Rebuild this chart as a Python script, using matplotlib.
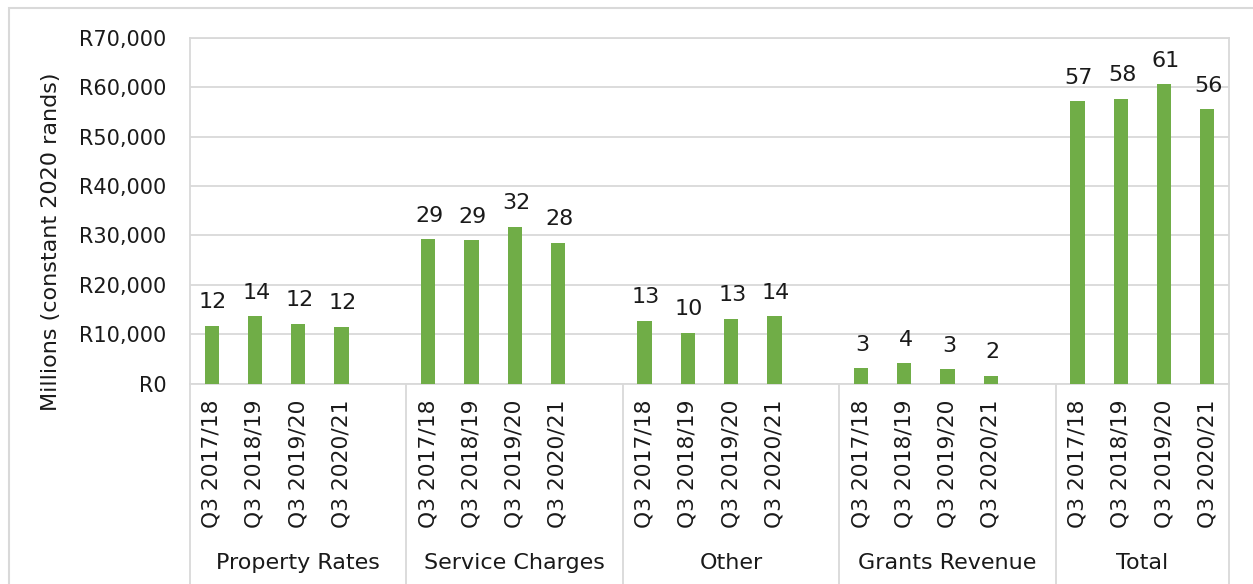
import matplotlib.pyplot as plt
from matplotlib.patches import Rectangle
from matplotlib.ticker import FuncFormatter

# revenue in R millions (constant 2020 rands)
groups = ["Property Rates", "Service Charges", "Other", "Grants Revenue", "Total"]
quarters = ["Q3 2017/18", "Q3 2018/19", "Q3 2019/20", "Q3 2020/21"]
property_rates = [11700, 13600, 12100, 11500]
service_charges = [29300, 29100, 31800, 28500]
other = [12700, 10300, 13100, 13700]
grants_revenue = [3100, 4100, 2900, 1600]
total = [57200, 57700, 60600, 55600]

series = [property_rates, service_charges, other, grants_revenue, total]

GREEN = "#70AD47"
GRID = "#D9D9D9"
TXT = "#1a1a1a"

W, H = 1253, 584
fig = plt.figure(figsize=(W / 100, H / 100), dpi=100)

# chart outer border (runs off the right / bottom edge)
fig.patches.append(Rectangle((9 / W, -0.1), 1.2, 1 - 8 / H + 0.1, transform=fig.transFigure,
                             fill=False, edgecolor=GRID, lw=1.5))

left, right, top, bottom = 190, 1229, 38, 383.5
ax = fig.add_axes([left / W, 1 - bottom / H, (right - left) / W, (bottom - top) / H])

# 5 slots per group: 4 bars + an empty gap (no gap after the last group)
xs = []
for g in range(len(groups)):
    xs.append([g * 5 + i for i in range(len(quarters))])

for g, vals in enumerate(series):
    ax.bar(xs[g], vals, width=0.33, color=GREEN, zorder=3)
    for x, v in zip(xs[g], vals):
        ax.annotate(str(round(v / 1000)), (x, v), xytext=(1, 12.5), textcoords="offset points",
                    ha="center", va="baseline", fontsize=16, color=TXT)

ax.set_xlim(-0.5, 23.5)
ax.set_ylim(0, 70000)
ax.set_yticks(range(0, 70001, 10000))
ax.yaxis.set_major_formatter(FuncFormatter(lambda v, p: "R{:,.0f}".format(v)))
ax.tick_params(axis="y", length=0, pad=17, labelsize=15, labelcolor=TXT)
ax.set_xticks([])
ax.grid(axis="y", color=GRID, lw=1.3, zorder=0)
for s in ax.spines.values():
    s.set_color(GRID)
    s.set_linewidth(1.3)

# multi-level category axis
axh = bottom - top
tr = ax.get_xaxis_transform()
seps = [-0.5, 4.5, 9.5, 14.5, 19.5, 23.5]
for g in range(len(groups)):
    for x, q in zip(xs[g], quarters):
        ax.text(x, (bottom - 399) / axh, q, rotation=90, ha="center", va="top",
                fontsize=15.7, color=TXT, transform=tr, clip_on=False)
    ax.text((seps[g] + seps[g + 1]) / 2, (bottom - 563) / axh, groups[g], ha="center", va="center",
            fontsize=16, color=TXT, transform=tr, clip_on=False)

for sx in seps:
    ax.plot([sx, sx], [0, (bottom - 590) / axh], color=GRID, lw=1.3, transform=tr, clip_on=False)

fig.text(51 / W, 1 - 242 / H, "Millions (constant 2020 rands)", rotation=90,
         ha="center", va="center", fontsize=16, color=TXT)

fig.savefig("out.png", dpi=100)
